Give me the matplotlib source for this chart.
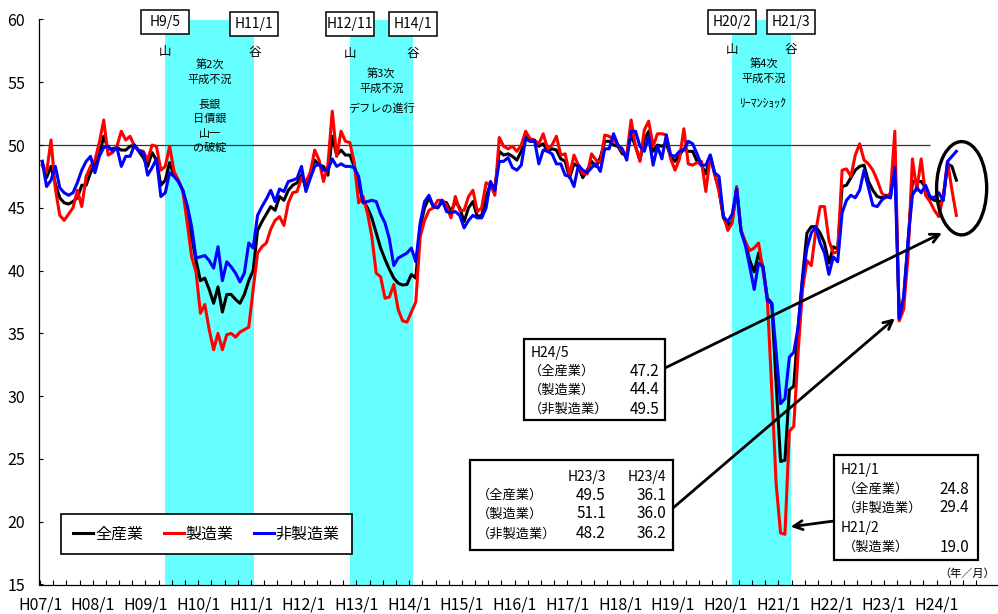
import matplotlib
matplotlib.use('Agg')
import matplotlib.pyplot as plt
from matplotlib.patches import Ellipse, Rectangle
from matplotlib.lines import Line2D

plt.rcParams['font.family'] = ['Noto Sans CJK JP', 'DejaVu Sans']

# ---------------- data (monthly, H07/1 .. H24/5) ----------------
zen_sangyo = [  # 全産業
    48.7, 47.4, 48.3, 46.9, 45.8, 45.4, 45.3, 45.5, 45.8, 46.8,
    46.8, 47.8, 48.5, 49.2, 50.7, 49.7, 49.7, 49.8, 49.6, 49.6,
    49.9, 50.0, 49.5, 49.0, 48.3, 49.4, 48.8, 46.8, 47.2, 48.6,
    47.6, 47.1, 46.4, 44.8, 42.7, 40.8, 39.2, 39.4, 38.5, 37.4,
    38.7, 36.7, 38.1, 38.1, 37.7, 37.4, 38.1, 39.2, 40.0, 43.2,
    43.9, 44.5, 45.1, 44.8, 45.9, 45.6, 46.4, 46.8, 47.0, 47.6,
    46.6, 47.8, 48.8, 48.4, 48.3, 47.6, 50.7, 49.2, 49.6, 49.2,
    49.2, 48.3, 46.8, 45.6, 45.0, 44.2, 43.0, 41.8, 40.9, 40.1,
    39.4, 39.0, 38.85, 38.9, 39.7, 39.4, 43.5, 45.0, 45.8, 45.1,
    45.0, 45.5, 45.4, 44.7, 45.5, 45.0, 43.9, 45.0, 45.5, 44.3,
    44.4, 45.8, 47.0, 46.5, 49.5, 49.2, 49.3, 49.1, 48.8, 49.5,
    50.7, 50.3, 50.3, 49.9, 50.1, 49.5, 49.7, 49.6, 48.9, 48.7,
    47.4, 48.5, 48.3, 47.4, 48.0, 48.7, 48.3, 49.0, 50.3, 50.3,
    50.0, 49.9, 49.3, 49.2, 50.8, 49.9, 48.8, 50.4, 51.1, 49.5,
    50.0, 49.9, 50.1, 49.1, 48.7, 49.2, 49.7, 49.5, 49.5, 48.7,
    48.4, 47.7, 49.2, 47.7, 46.4, 44.2, 43.6, 43.9, 46.6, 43.2,
    42.2, 40.8, 39.9, 41.4, 40.3, 37.8, 37.4, 31.0, 24.8, 24.9,
    30.5, 30.8, 35.5, 39.5, 43.0, 43.5, 43.5, 43.0, 42.2, 40.6,
    41.9, 41.7, 46.7, 46.8, 47.4, 48.0, 48.3, 48.4, 47.1, 46.4,
    45.9, 45.8, 46.0, 45.8, 49.5, 36.1, 37.7, 42.2, 47.1, 47.1,
    47.1, 46.6, 45.8, 45.6, 45.5, 45.6, 48.5, 48.3, 47.2,
]
seizogyo = [  # 製造業
    48.4, 47.8, 50.4, 46.5, 44.4, 44.0, 44.5, 45.0, 46.4, 45.1,
    47.5, 48.3, 48.8, 50.2, 52.0, 49.2, 49.4, 49.9, 51.1, 50.4,
    50.7, 49.9, 49.6, 49.5, 48.8, 50.0, 49.9, 48.0, 48.3, 49.9,
    47.9, 47.2, 46.3, 43.8, 41.1, 39.9, 36.6, 37.3, 35.3, 33.7,
    35.0, 33.7, 34.9, 35.0, 34.7, 35.1, 35.3, 35.5, 38.5, 41.4,
    41.9, 42.2, 43.3, 44.0, 44.3, 43.6, 45.4, 46.2, 46.3, 47.4,
    47.1, 47.8, 49.6, 48.8, 47.1, 48.4, 52.7, 49.1, 51.1, 50.3,
    50.2, 48.6, 45.4, 45.9, 44.6, 42.7, 39.8, 39.5, 37.8, 37.9,
    38.9, 36.9, 36.0, 35.9, 36.7, 37.5, 42.7, 44.0, 44.8, 45.0,
    45.6, 45.6, 45.2, 44.2, 45.9, 44.8, 44.8, 45.9, 46.4, 44.7,
    45.0, 47.0, 46.8, 46.0, 50.6, 49.9, 49.7, 49.9, 49.5, 50.0,
    51.1, 50.5, 50.4, 50.1, 50.9, 49.7, 50.0, 50.7, 49.2, 49.3,
    47.6, 49.2, 48.4, 47.7, 47.7, 49.3, 48.8, 48.6, 50.8, 50.7,
    50.4, 50.0, 49.5, 49.2, 52.0, 49.9, 48.7, 51.2, 51.9, 49.9,
    50.9, 50.9, 50.8, 48.9, 48.0, 48.9, 51.3, 48.5, 48.4, 48.6,
    48.7, 46.3, 49.1, 47.7, 46.3, 44.4, 43.2, 43.8, 46.7, 43.2,
    42.3, 41.6, 41.8, 42.2, 40.0, 37.7, 30.5, 23.0, 19.1, 19.0,
    27.2, 27.6, 33.5, 38.5, 40.8, 40.4, 43.1, 45.1, 45.1, 42.4,
    41.4, 41.5, 48.0, 48.1, 47.5, 49.2, 50.1, 48.8, 48.5, 48.0,
    47.2, 46.2, 45.8, 46.2, 51.1, 36.0, 36.9, 41.1, 48.9, 46.4,
    48.9, 46.0, 45.5, 44.8, 44.3, 45.9, 48.7, 46.4, 44.4,
]
hi_seizogyo = [  # 非製造業
    48.7, 46.7, 47.2, 48.3, 46.6, 46.2, 46.0, 46.2, 47.0, 48.0,
    48.7, 49.1, 47.8, 49.1, 49.8, 49.9, 49.5, 49.8, 48.3, 49.1,
    49.1, 50.0, 49.5, 49.4, 47.6, 48.2, 48.9, 45.9, 46.2, 47.8,
    47.5, 47.1, 46.4, 45.2, 43.5, 41.0, 41.1, 41.2, 40.8, 40.2,
    41.9, 39.2, 40.7, 40.3, 39.8, 39.1, 39.8, 42.2, 41.8, 44.4,
    45.1, 45.7, 46.4, 45.5, 46.5, 46.3, 47.1, 47.2, 47.35, 48.3,
    46.3, 47.35, 48.3, 48.5, 48.0, 48.0, 48.9, 48.3, 48.5, 48.3,
    48.3, 48.2, 47.5, 45.4, 45.5, 45.6, 45.5, 44.5, 43.8, 42.5,
    40.4, 41.0, 41.2, 41.4, 41.8, 40.7, 43.8, 45.5, 46.0, 45.1,
    45.0, 45.6, 44.7, 44.6, 44.7, 44.4, 43.4, 44.0, 44.4, 44.2,
    44.2, 45.0, 47.1, 46.4, 48.7, 48.7, 49.0, 48.2, 48.0, 48.4,
    50.5, 50.3, 50.4, 48.5, 49.6, 49.5, 49.3, 48.5, 48.5, 47.6,
    47.5, 46.7, 48.4, 48.0, 47.8, 48.2, 48.5, 47.9, 49.7, 49.7,
    50.9, 50.0, 49.7, 48.8, 51.1, 51.1, 49.9, 49.5, 50.7, 48.4,
    49.9, 48.9, 50.8, 49.2, 49.1, 49.5, 49.6, 50.3, 50.1, 49.3,
    48.4, 48.4, 49.2, 47.8, 47.5, 44.3, 43.9, 44.5, 46.5, 43.1,
    42.0, 40.3, 38.5, 40.6, 40.3, 37.6, 37.4, 33.5, 29.4, 29.8,
    33.1, 33.5, 35.5, 39.3, 41.8, 43.0, 43.5, 42.2, 41.4, 39.7,
    41.1, 40.7, 44.6, 45.6, 46.0, 45.8, 46.4, 48.0, 46.6, 45.2,
    45.1, 45.6, 45.9, 45.8, 48.2, 36.2, 37.9, 42.4, 46.0, 46.6,
    46.2, 46.8, 45.9, 45.8, 46.2, 45.6, 48.7, 49.1, 49.5,
]
series_names = ['全産業', '製造業', '非製造業']
series_colors = ['#000000', '#FF0000', '#0000FF']
tick_labels = ['H%02d/1' % y for y in range(7, 25)]
recessions = [('H9/5', 'H11/1'), ('H12/11', 'H14/1'), ('H20/2', 'H21/3')]
recession_notes = [['第2次', '平成不況', '', '長銀', '日債銀', '山一', 'の破綻'],
                   ['第3次', '平成不況', 'デフレの進行'],
                   ['第4次', '平成不況', 'ﾘｰﾏﾝｼｮｯｸ']]


def month_index(lbl):
    y, m = lbl[1:].split('/')
    return (int(y) - 7) * 12 + int(m) - 1


# ---------------- figure ----------------
W, H = 998, 614
fig = plt.figure(figsize=(W / 100, H / 100), dpi=100)
ax = fig.add_axes([39 / W, 1 - 584.5 / H, (998 - 39) / W, (584.5 - 19.5) / H])
PXM = 4.395  # px per month
ax.set_xlim(-1 / PXM, (998 - 40) / PXM)
ax.set_ylim(15, 60)

n = len(zen_sangyo)
xs = [i + 0.5 for i in range(n)]

for (s, e) in recessions:
    ax.axvspan(month_index(s) + 0.5, month_index(e) + 0.8, color='#66FFFF', zorder=0, lw=0)

ax.hlines(50, -1 / PXM, 202.5, color='#333333', lw=0.9, zorder=1)

for vals, c in zip([zen_sangyo, seizogyo, hi_seizogyo], series_colors):
    ax.plot(xs, vals, color=c, lw=2.2, zorder=3, solid_joinstyle='round')

for sp in ['top', 'right']:
    ax.spines[sp].set_visible(False)
for sp in ['left', 'bottom']:
    ax.spines[sp].set_linewidth(0.9)

ax.set_xticks([12 * i for i in range(len(tick_labels))])
ax.set_xticklabels(tick_labels, fontsize=11.5)
ax.set_xticks([3 * i for i in range(73) if i % 4], minor=True)
ax.tick_params(axis='x', which='both', direction='in', length=3.6, width=0.8, pad=9)
ax.set_yticks(range(15, 61, 5))
ax.set_yticklabels([str(v) for v in range(15, 61, 5)], fontsize=11.5)
ax.tick_params(axis='y', direction='in', length=3, width=0.8, pad=10)

# legend
handles = [Line2D([], [], color=c, lw=2.2) for c in series_colors]
leg = ax.legend(handles, series_names, loc='center', bbox_to_anchor=(206.5 / W, 1 - 534 / H),
                bbox_transform=fig.transFigure, ncol=3, frameon=True, fancybox=False,
                edgecolor='black', framealpha=1, fontsize=11.5, handlelength=1.25,
                handletextpad=0.1, columnspacing=1.3, borderpad=0.75)
leg.get_frame().set_linewidth(1.2)
leg.set_zorder(6)


def fp(x, y):
    return (x / W, 1 - y / H)


def dpx(xd):
    return 40 + xd * PXM


# recession labels
box_y = [22, 24, 24, 24, 22, 22]
yama_y = [52, 53, 49]
note_y = [[65, 80, 0, 104, 119, 134, 148], [74, 89, 108], [64, 79, 104]]
k = 0
for r, (s, e) in enumerate(recessions):
    xs_ = dpx(month_index(s) + 0.5)
    xe_ = dpx(month_index(e) + 0.8)
    for lbl, xc in ((s, xs_), (e, xe_)):
        yc = box_y[k]
        k += 1
        fig.add_artist(Rectangle(fp(xc - 24, yc + 12), 48 / W, 24 / H, transform=fig.transFigure,
                                 fc='white', ec='black', lw=1.1, zorder=7))
        fig.text(*fp(xc, yc), lbl, ha='center', va='center', fontsize=10, zorder=8)
    fig.text(*fp(xs_, yama_y[r]), '山', ha='center', va='center', fontsize=9, zorder=8)
    fig.text(*fp(xe_, yama_y[r]), '谷', ha='center', va='center', fontsize=9, zorder=8)
    xm = (xs_ + xe_) / 2 + (0 if r != 2 else 2)
    for t, yy in zip(recession_notes[r], note_y[r]):
        if t:
            fs = 8 if not t.startswith('ﾘ') else 8.5
            fig.text(*fp(xm, yy), t, ha='center', va='center', fontsize=fs, zorder=8)

# annotation boxes
def box(x0, y0, x1, y1):
    fig.add_artist(Rectangle(fp(x0, y1), (x1 - x0) / W, (y1 - y0) / H, transform=fig.transFigure,
                             fc='white', ec='black', lw=1.6, zorder=7))

i245 = month_index('H24/5')
box(524, 339, 665, 420)
fig.text(*fp(531, 353), 'H24/5', ha='left', va='center', fontsize=10, zorder=8)
for j, (nm, vals) in enumerate(zip(series_names, [zen_sangyo, seizogyo, hi_seizogyo])):
    yy = [371, 390, 409][j]
    fig.text(*fp(529, yy), '（%s）' % nm, ha='left', va='center', fontsize=9.5, zorder=8)
    fig.text(*fp(659, yy), '%.1f' % vals[i245], ha='right', va='center', fontsize=11, zorder=8)

i233, i234 = month_index('H23/3'), month_index('H23/4')
box(470, 460, 673, 550)
fig.text(*fp(606, 477), 'H23/3', ha='right', va='center', fontsize=10, zorder=8)
fig.text(*fp(666, 477), 'H23/4', ha='right', va='center', fontsize=10, zorder=8)
for j, (nm, vals) in enumerate(zip(series_names, [zen_sangyo, seizogyo, hi_seizogyo])):
    yy = [495, 514, 534][j]
    fig.text(*fp(477, yy), '（%s）' % nm, ha='left', va='center', fontsize=9.5, zorder=8)
    fig.text(*fp(606, yy), '%.1f' % vals[i233], ha='right', va='center', fontsize=11, zorder=8)
    fig.text(*fp(666, yy), '%.1f' % vals[i234], ha='right', va='center', fontsize=11, zorder=8)

i211, i212 = month_index('H21/1'), month_index('H21/2')
box(834, 455, 978, 560)
fig.text(*fp(841, 470), 'H21/1', ha='left', va='center', fontsize=10, zorder=8)
fig.text(*fp(843, 489), '（全産業）', ha='left', va='center', fontsize=9.5, zorder=8)
fig.text(*fp(969, 489), '%.1f' % zen_sangyo[i211], ha='right', va='center', fontsize=11, zorder=8)
fig.text(*fp(843, 508), '（非製造業）', ha='left', va='center', fontsize=9.5, zorder=8)
fig.text(*fp(969, 508), '%.1f' % hi_seizogyo[i211], ha='right', va='center', fontsize=11, zorder=8)
fig.text(*fp(841, 528), 'H21/2', ha='left', va='center', fontsize=10, zorder=8)
fig.text(*fp(843, 547), '（製造業）', ha='left', va='center', fontsize=9.5, zorder=8)
fig.text(*fp(969, 547), '%.1f' % seizogyo[i212], ha='right', va='center', fontsize=11, zorder=8)

# ellipse around latest values
ell = Ellipse((209.7, 46.56), width=11.4, height=7.43, fill=False, ec='black', lw=2.4,
              zorder=6, clip_on=False)
ax.add_patch(ell)

ap = dict(arrowstyle='->', lw=2.0, color='black', shrinkA=0, shrinkB=0, mutation_scale=16)
ax.annotate('', xy=(942, H - 233), xycoords='figure pixels', xytext=(665, H - 368),
            textcoords='figure pixels', arrowprops=ap, zorder=6)
ax.annotate('', xy=(i234 + 0.5 - 1.0, hi_seizogyo[i234]), xycoords='data', xytext=(673, H - 508),
            textcoords='figure pixels', arrowprops=ap, zorder=6)
ax.annotate('', xy=(i212 + 0.5 + 1.3, seizogyo[i212] + 0.6), xycoords='data', xytext=(834, H - 521),
            textcoords='figure pixels', arrowprops=ap, zorder=6)

fig.text(*fp(967, 574), '（年／月）', ha='center', va='center', fontsize=8)

fig.savefig('out.png', dpi=100)
